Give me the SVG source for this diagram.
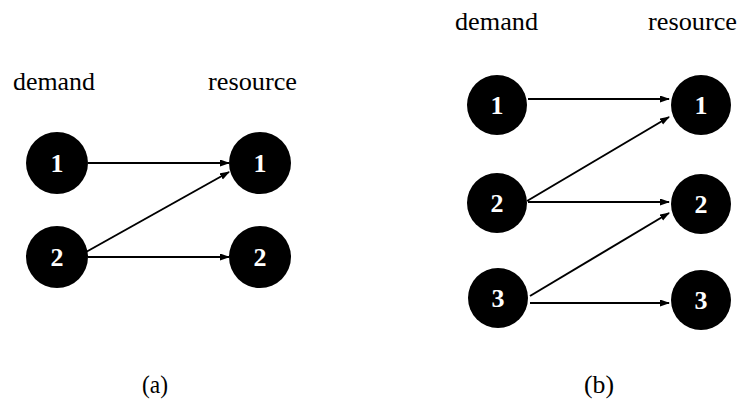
<svg xmlns="http://www.w3.org/2000/svg" width="739" height="403" viewBox="0 0 739 403">
<style>
.node{fill:#000}
.num{fill:#fff;font-family:"Liberation Serif","Times New Roman",Times,serif;font-weight:bold;font-size:26px;text-anchor:middle}
.lbl{fill:#000;font-family:"Liberation Serif","Times New Roman",Times,serif;font-size:26px}
.edge{stroke:#000;stroke-width:2;fill:none;marker-end:url(#ah)}
</style>
<defs>
<marker id="ah" markerUnits="userSpaceOnUse" markerWidth="10" markerHeight="8" refX="9" refY="3.5" orient="auto">
<path d="M0,0 L10,3.5 L0,7 z" fill="#000"/>
</marker>
</defs>
<rect width="739" height="403" fill="#fff"/>
<g id="labels">
<text class="lbl" x="13" y="90" textLength="82" lengthAdjust="spacingAndGlyphs">demand</text>
<text class="lbl" x="208" y="90" textLength="89" lengthAdjust="spacingAndGlyphs">resource</text>
<text class="lbl" x="455" y="30" textLength="83" lengthAdjust="spacingAndGlyphs">demand</text>
<text class="lbl" x="648" y="30" textLength="89" lengthAdjust="spacingAndGlyphs">resource</text>
<text class="lbl" x="142" y="393" textLength="26" lengthAdjust="spacingAndGlyphs">(a)</text>
<text class="lbl" x="584" y="393" textLength="30" lengthAdjust="spacingAndGlyphs">(b)</text>
</g>
<g id="connectors">
<line class="edge" x1="88" y1="163" x2="229" y2="163"/>
<line class="edge" x1="86" y1="252" x2="229" y2="172"/>
<line class="edge" x1="88" y1="257" x2="229" y2="257"/>
<line class="edge" x1="528" y1="99" x2="669" y2="99"/>
<line class="edge" x1="527" y1="201" x2="669" y2="117"/>
<line class="edge" x1="528" y1="202" x2="669" y2="202"/>
<line class="edge" x1="530" y1="296" x2="669" y2="213"/>
<line class="edge" x1="530" y1="303" x2="669" y2="303"/>
</g>
<g id="a-d1"><circle class="node" cx="57" cy="163" r="31"/><text class="num" x="57" y="172">1</text></g>
<g id="a-d2"><circle class="node" cx="57" cy="257" r="31"/><text class="num" x="57" y="266">2</text></g>
<g id="a-r1"><circle class="node" cx="260" cy="163" r="31"/><text class="num" x="260" y="172">1</text></g>
<g id="a-r2"><circle class="node" cx="260" cy="257" r="31"/><text class="num" x="260" y="266">2</text></g>
<g id="b-d1"><circle class="node" cx="497" cy="105" r="30"/><text class="num" x="497" y="114">1</text></g>
<g id="b-d2"><circle class="node" cx="497" cy="203" r="30"/><text class="num" x="497" y="212">2</text></g>
<g id="b-d3"><circle class="node" cx="498" cy="298" r="30"/><text class="num" x="498" y="307">3</text></g>
<g id="b-r1"><circle class="node" cx="701" cy="105" r="30"/><text class="num" x="701" y="114">1</text></g>
<g id="b-r2"><circle class="node" cx="701" cy="204" r="30"/><text class="num" x="701" y="213">2</text></g>
<g id="b-r3"><circle class="node" cx="701" cy="300" r="30"/><text class="num" x="701" y="309">3</text></g>
</svg>
